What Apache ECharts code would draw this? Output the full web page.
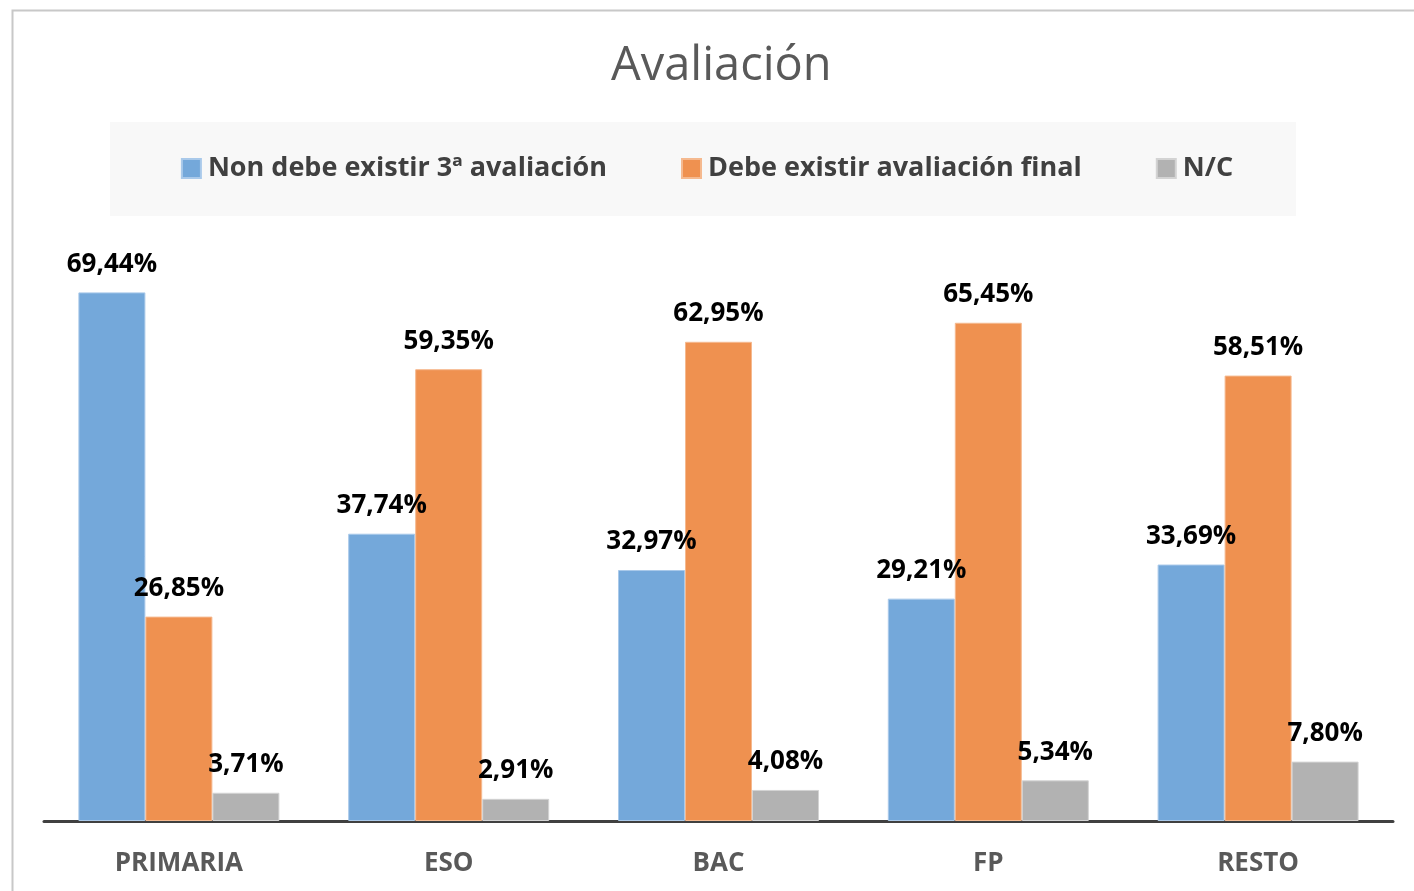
<!DOCTYPE html>
<html>
<head>
<meta charset="utf-8">
<script src="https://cdn.jsdelivr.net/npm/echarts@6/dist/echarts.min.js"></script>
<style>
  html, body { margin: 0; padding: 0; background: #fff; }
  #chart { width: 1414px; height: 891px; }
</style>
</head>
<body>
<div id="chart"></div>
<script>
const categories = ['PRIMARIA', 'ESO', 'BAC', 'FP', 'RESTO']
const seriesNames = ['Non debe existir 3ª avaliación', 'Debe existir avaliación final', 'N/C']
const nonDebe = [69.44, 37.74, 32.97, 29.21, 33.69]
const debeFinal = [26.85, 59.35, 62.95, 65.45, 58.51]
const nc = [3.71, 2.91, 4.08, 5.34, 7.80]

const colors = ['#74a8da', '#ef9150', '#b2b2b2']
const borders = ['#a9c9ea', '#f5b98f', '#d3d3d3']
const font = '"Open Sans", "Noto Sans", sans-serif'

const chart = echarts.init(document.getElementById('chart'))

const fmt = p => p.value.toFixed(2).replace('.', ',') + '%'

function makeSeries(name, data, i) {
  return {
    name: name,
    type: 'bar',
    data: data,
    barWidth: 67,
    barGap: '0%',
    itemStyle: { color: colors[i], borderColor: borders[i], borderWidth: 1 },
    label: {
      show: true,
      position: 'top',
      distance: 15,
      formatter: fmt,
      color: '#000',
      fontFamily: font,
      fontWeight: 'bold',
      fontSize: 26
    }
  }
}

chart.setOption({
  animation: false,
  backgroundColor: '#fff',
  title: {
    text: 'Avaliación',
    left: 606,
    top: 38,
    textStyle: { fontFamily: font, fontWeight: 'normal', fontSize: 47, color: '#595959' }
  },
  graphic: [
    {
      type: 'rect',
      silent: true,
      z: -10,
      shape: { x: 110, y: 122, width: 1186, height: 94 },
      style: { fill: '#f8f8f8' }
    },
    {
      type: 'polyline',
      silent: true,
      z: -10,
      shape: { points: [[12.5, 891], [12.5, 10.5], [1414, 10.5]] },
      style: { stroke: '#c8c8c8', lineWidth: 2, fill: null }
    }
  ],
  legend: {
    left: 'center',
    top: 150,
    itemWidth: 19,
    itemHeight: 19,
    itemGap: 74,
    icon: 'rect',
    data: seriesNames,
    textStyle: { fontFamily: font, fontWeight: 'bold', fontSize: 27, color: '#404040', padding: [0, 0, 0, 2] }
  },
  grid: { left: 44, right: 21, top: 212, bottom: 70 },
  xAxis: {
    type: 'category',
    data: categories,
    axisLine: { lineStyle: { color: '#404040', width: 3 } },
    axisTick: { show: false },
    axisLabel: { fontFamily: font, fontWeight: 'bold', fontSize: 26, color: '#595959', margin: 30 }
  },
  yAxis: {
    type: 'value',
    min: 0,
    max: 80,
    show: false,
    splitLine: { show: false }
  },
  series: [
    makeSeries(seriesNames[0], nonDebe, 0),
    makeSeries(seriesNames[1], debeFinal, 1),
    makeSeries(seriesNames[2], nc, 2)
  ]
})
</script>
</body>
</html>
